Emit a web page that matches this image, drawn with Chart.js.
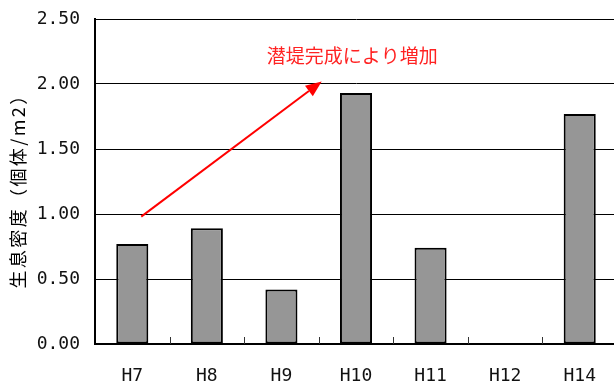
<!DOCTYPE html>
<html>
<head>
<meta charset="utf-8">
<script src="https://cdn.jsdelivr.net/npm/chart.js@4"></script>
<style>
  html, body { margin: 0; padding: 0; background: #fff; overflow: hidden; }
  #wrap { width: 617px; height: 385px; }
</style>
</head>
<body>
<div id="wrap"><canvas id="c"></canvas></div>
<script>
// Survey years and population density (individuals per m2)
const years = ['H7', 'H8', 'H9', 'H10', 'H11', 'H12', 'H14'];
const density = [0.77, 0.89, 0.42, 1.93, 0.74, null, 1.77];
const yTicks = [0, 0.5, 1.0, 1.5, 2.0, 2.5];
const yTitle = '生息密度（個体/m2）';

// Annotation: arrow (category index, value) and its caption
const noteText = '潜堤完成により増加';
const noteAt = [2.95, 2.22];
const arrowFrom = [0.12, 0.98];
const arrowTo = [2.54, 2.02];

const tickFont = { family: '"DejaVu Sans Mono", "Liberation Mono", monospace', size: 18 };
const jpFont = '"Noto Sans CJK JP", "Noto Sans CJK SC", sans-serif';

// Short category-boundary ticks pointing up into the plot
const innerTicks = {
  id: 'innerTicks',
  afterDatasetsDraw(chart) {
    const { ctx, scales: { x }, chartArea } = chart;
    ctx.save();
    ctx.strokeStyle = '#333';
    ctx.lineWidth = 1;
    for (let i = 1; i < years.length; i++) {
      const px = Math.round(x.getPixelForValue(i - 0.5)) + 0.5;
      ctx.beginPath();
      ctx.moveTo(px, chartArea.bottom);
      ctx.lineTo(px, chartArea.bottom - 7);
      ctx.stroke();
    }
    ctx.restore();
  }
};

// Rotated y-axis title
const yTitlePlugin = {
  id: 'yTitlePlugin',
  afterDraw(chart) {
    const { ctx, chartArea } = chart;
    ctx.save();
    ctx.translate(18, (chartArea.top + chartArea.bottom) / 2 + 5);
    ctx.rotate(-Math.PI / 2);
    ctx.font = '18px ' + jpFont;
    if ('letterSpacing' in ctx) ctx.letterSpacing = '2.4px';
    ctx.fillStyle = '#000';
    ctx.textAlign = 'center';
    ctx.textBaseline = 'middle';
    ctx.fillText(yTitle, 0, 0);
    ctx.restore();
  }
};

// Red arrow with caption
const arrowNote = {
  id: 'arrowNote',
  afterDraw(chart) {
    const { ctx, scales: { x, y } } = chart;
    const x1 = x.getPixelForValue(arrowFrom[0]), y1 = y.getPixelForValue(arrowFrom[1]);
    const x2 = x.getPixelForValue(arrowTo[0]), y2 = y.getPixelForValue(arrowTo[1]);
    const ang = Math.atan2(y2 - y1, x2 - x1);
    const headLen = 16, headHalf = 6.5;
    const bx = x2 - headLen * Math.cos(ang), by = y2 - headLen * Math.sin(ang);
    ctx.save();
    ctx.strokeStyle = '#ff0000';
    ctx.fillStyle = '#ff0000';
    ctx.lineWidth = 2;
    ctx.beginPath();
    ctx.moveTo(x1, y1);
    ctx.lineTo(bx, by);
    ctx.stroke();
    ctx.beginPath();
    ctx.moveTo(x2, y2);
    ctx.lineTo(bx + headHalf * Math.sin(ang), by - headHalf * Math.cos(ang));
    ctx.lineTo(bx - headHalf * Math.sin(ang), by + headHalf * Math.cos(ang));
    ctx.closePath();
    ctx.fill();
    ctx.font = '19px ' + jpFont;
    ctx.textAlign = 'center';
    ctx.textBaseline = 'middle';
    ctx.fillStyle = '#f22';
    ctx.fillText(noteText, x.getPixelForValue(noteAt[0]), y.getPixelForValue(noteAt[1]));
    ctx.restore();
  }
};

new Chart(document.getElementById('c'), {
  type: 'bar',
  data: {
    labels: years,
    datasets: [{
      data: density,
      backgroundColor: '#969696',
      borderColor: '#000',
      borderWidth: 2,
      borderSkipped: false,
      categoryPercentage: 1,
      barPercentage: 0.43
    }]
  },
  options: {
    responsive: true,
    maintainAspectRatio: false,
    animation: false,
    devicePixelRatio: 1,
    layout: { padding: { top: 19, right: 0, bottom: 0, left: 0 } },
    plugins: { legend: { display: false }, tooltip: { enabled: false } },
    scales: {
      x: {
        grid: { display: true, drawOnChartArea: false, drawTicks: false, offset: true },
        border: { display: true, color: '#000', width: 2 },
        ticks: { font: tickFont, color: '#111', padding: 22, maxRotation: 0 },
        afterFit(scale) { scale.height = 41; scale.paddingLeft = 0; scale.paddingRight = 0; }
      },
      y: {
        min: 0,
        max: 2.5,
        afterBuildTicks(scale) { scale.ticks = yTicks.map(v => ({ value: v })); },
        grid: { color: '#000', lineWidth: 1, drawTicks: false },
        border: { display: true, color: '#000', width: 2 },
        ticks: {
          font: tickFont,
          color: '#111',
          padding: 15,
          callback: v => Number(v).toFixed(2)
        },
        afterFit(scale) { scale.width = 95; scale.paddingTop = 0; scale.paddingBottom = 0; }
      }
    }
  },
  plugins: [innerTicks, yTitlePlugin, arrowNote]
});
</script>
</body>
</html>
